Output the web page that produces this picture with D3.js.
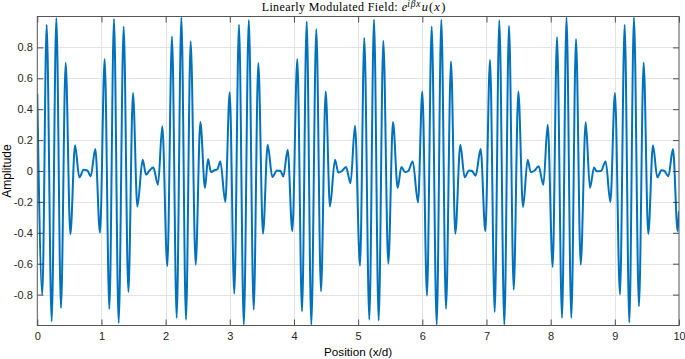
<!DOCTYPE html>
<html><head><meta charset="utf-8">
<script src="https://cdn.jsdelivr.net/npm/d3@7"></script>
<style>body{margin:0;background:#fff}svg{display:block}</style>
</head><body>
<svg id="chart" width="685" height="359"></svg>
<script>
// Extrema / shape points, one row per unit period
const position = [
  0.000,0.078,0.146,0.224,0.297,0.369,0.442,0.515,0.588,0.655,0.723,0.780,0.832,0.904,0.977,
  1.050,1.123,1.195,1.268,1.346,1.419,1.491,1.559,1.642,1.694,1.749,1.808,1.881,1.948,
  2.026,2.099,2.172,2.245,2.317,2.390,2.468,2.541,2.613,2.660,2.707,2.761,2.805,2.852,2.930,2.998,
  3.070,3.143,3.218,3.296,3.372,3.444,3.517,3.590,3.663,3.735,3.790,3.834,3.902,3.974,
  4.052,4.125,4.198,4.270,4.348,4.421,4.494,4.561,4.639,4.691,4.748,4.811,4.881,4.951,
  5.029,5.096,5.174,5.247,5.320,5.392,5.470,5.543,5.616,5.673,5.730,5.781,5.850,5.933,
  6.000,6.073,6.146,6.224,6.296,6.369,6.447,6.514,6.592,6.660,6.727,6.774,6.831,6.909,6.982,
  7.055,7.128,7.200,7.278,7.351,7.424,7.496,7.569,7.642,7.689,7.741,7.813,7.886,7.954,
  8.031,8.099,8.177,8.247,8.322,8.395,8.468,8.546,8.613,8.676,8.717,8.784,8.857,8.930,
  9.002,9.080,9.153,9.226,9.298,9.376,9.449,9.521,9.594,9.662,9.727,9.774,9.834,9.906,9.979,10.000
];
const amplitude = [
  0.50,-0.80,0.947,-0.973,0.99,-0.887,0.70,-0.41,0.166,-0.041,0.008,0.003,-0.035,0.142,-0.40,
  0.725,-0.893,0.984,-0.984,0.936,-0.783,0.505,-0.23,0.073,-0.024,0.003,0.023,-0.089,0.289,
  -0.617,0.871,-0.951,0.995,-0.962,0.839,-0.606,0.317,-0.11,0.077,-0.007,0.005,0.01,0.062,-0.20,0.509,
  -0.794,0.947,-0.995,0.977,-0.898,0.699,-0.406,0.170,-0.039,0.004,0.0,-0.035,0.138,-0.39,
  0.725,-0.909,0.968,-0.995,0.919,-0.779,0.515,-0.229,0.073,-0.009,0.0,0.026,-0.08,0.293,
  -0.613,0.861,-0.962,0.979,-0.967,0.843,-0.60,0.317,-0.11,0.026,-0.007,0.0,0.062,-0.203,
  0.515,-0.807,0.936,-0.995,0.979,-0.893,0.709,-0.406,0.170,-0.041,0.004,0.0,-0.03,0.142,-0.39,
  0.72,-0.913,0.975,-0.995,0.940,-0.768,0.515,-0.233,0.073,-0.007,0.0,0.03,-0.089,0.30,
  -0.621,0.867,-0.951,0.995,-0.951,0.854,-0.606,0.315,-0.11,0.023,-0.002,0.0,0.062,-0.20,
  0.505,-0.80,0.947,-0.98,0.995,-0.876,0.703,-0.408,0.166,-0.041,0.005,0.0,-0.035,0.142,-0.39,-0.26
];
const xTicks = [0,1,2,3,4,5,6,7,8,9,10];
const yTicks = [-0.8,-0.6,-0.4,-0.2,0,0.2,0.4,0.6,0.8];
const xDomain = [0,10];
const yDomain = [-1,1];
const xLabelText = "Position (x/d)";
const yLabelText = "Amplitude";
const titleMain = "Linearly Modulated Field:";

const svg = d3.select("#chart");
const L = 37.3, R = 679, T = 16.5, B = 325.5;
const x = d3.scaleLinear().domain(xDomain).range([L, R]);
const y = d3.scaleLinear().domain(yDomain).range([B, T]);
const sans = "'Liberation Sans', Arial, Helvetica, sans-serif";
const axisColor = "#262626";

svg.append("rect").attr("width",685).attr("height",359).attr("fill","#fff");

// grid
const grid = svg.append("g").attr("stroke","#e4e4e4").attr("stroke-width",1);
grid.selectAll(".gx").data(xTicks.slice(1,-1)).join("line")
  .attr("x1",d=>Math.round(x(d))+0.5).attr("x2",d=>Math.round(x(d))+0.5).attr("y1",T).attr("y2",B);
grid.selectAll(".gy").data(yTicks).join("line")
  .attr("y1",d=>Math.round(y(d))+0.5).attr("y2",d=>Math.round(y(d))+0.5).attr("x1",L).attr("x2",R);

// data line
svg.append("clipPath").attr("id","clip").append("rect")
  .attr("x",L).attr("y",T-1).attr("width",R-L).attr("height",B-T+2);
const pts = position.map((p,i)=>[p, amplitude[i]]);
const line = d3.line().x(d=>x(d[0])).y(d=>y(d[1])).curve(d3.curveMonotoneX);
svg.append("path").datum(pts).attr("clip-path","url(#clip)")
  .attr("d",line).attr("fill","none").attr("stroke","#0072BD")
  .attr("stroke-width",2).attr("stroke-linejoin","round");

// axes
const fmt = d => d===0 ? "0" : (Number.isInteger(d) ? String(d) : d3.format(".1f")(d)).replace("\u2212","-");
function style(g){
  g.select(".domain").remove();
  g.selectAll("line").attr("stroke",axisColor).attr("stroke-width",0.8);
  g.selectAll("text").attr("fill",axisColor).attr("font-family",sans).attr("font-size","11px");
}
svg.append("g").attr("transform",`translate(0,${B})`)
  .call(d3.axisBottom(x).tickValues(xTicks).tickFormat(fmt).tickSizeInner(-6).tickSizeOuter(0).tickPadding(7)).call(style);
svg.append("g").attr("transform",`translate(0,${T})`)
  .call(d3.axisTop(x).tickValues(xTicks).tickFormat("").tickSizeInner(-6).tickSizeOuter(0)).call(style);
svg.append("g").attr("transform",`translate(${L},0)`)
  .call(d3.axisLeft(y).tickValues(yTicks).tickFormat(fmt).tickSizeInner(-6).tickSizeOuter(0).tickPadding(4.5)).call(style);
svg.append("g").attr("transform",`translate(${R},0)`)
  .call(d3.axisRight(y).tickValues(yTicks).tickFormat("").tickSizeInner(-6).tickSizeOuter(0)).call(style);

// box
svg.append("rect").attr("x",L).attr("y",T).attr("width",R-L).attr("height",B-T)
  .attr("fill","none").attr("stroke","#555").attr("stroke-width",1);

// labels
svg.append("text").attr("x",(L+R)/2).attr("y",356).attr("text-anchor","middle")
  .attr("font-family",sans).attr("font-size","11.7px").attr("fill","#000").text(xLabelText);
svg.append("text").attr("transform",`translate(10.5,${(T+B)/2}) rotate(-90)`).attr("text-anchor","middle")
  .attr("font-family",sans).attr("font-size","12px").attr("fill","#000").text(yLabelText);

// title (LaTeX-like)
const serif = "'Liberation Serif', 'DejaVu Serif', serif";
const cx = (L+R)/2 - 1.5;
const tx0 = cx - 95;
svg.append("text").attr("x",tx0).attr("y",11.2)
  .attr("font-family",serif).attr("font-size","12px").attr("fill","#000")
  .attr("textLength",136).attr("lengthAdjust","spacing").text(titleMain);
const math = svg.append("text").attr("x",tx0+140).attr("y",11.2)
  .attr("font-family",serif).attr("font-size","12.5px").attr("fill","#000");
math.append("tspan").attr("font-style","italic").text("e");
math.append("tspan").attr("font-style","italic").attr("font-size","9.5px").attr("dy",-4.5)
  .attr("letter-spacing","0.8px").text("iβx");
math.append("tspan").attr("font-style","italic").attr("dy",4.5).attr("dx",0.5).text("u");
math.append("tspan").attr("dx",1).text("(");
math.append("tspan").attr("font-style","italic").attr("dx",1).text("x");
math.append("tspan").attr("dx",1.5).text(")");
</script>
</body></html>
